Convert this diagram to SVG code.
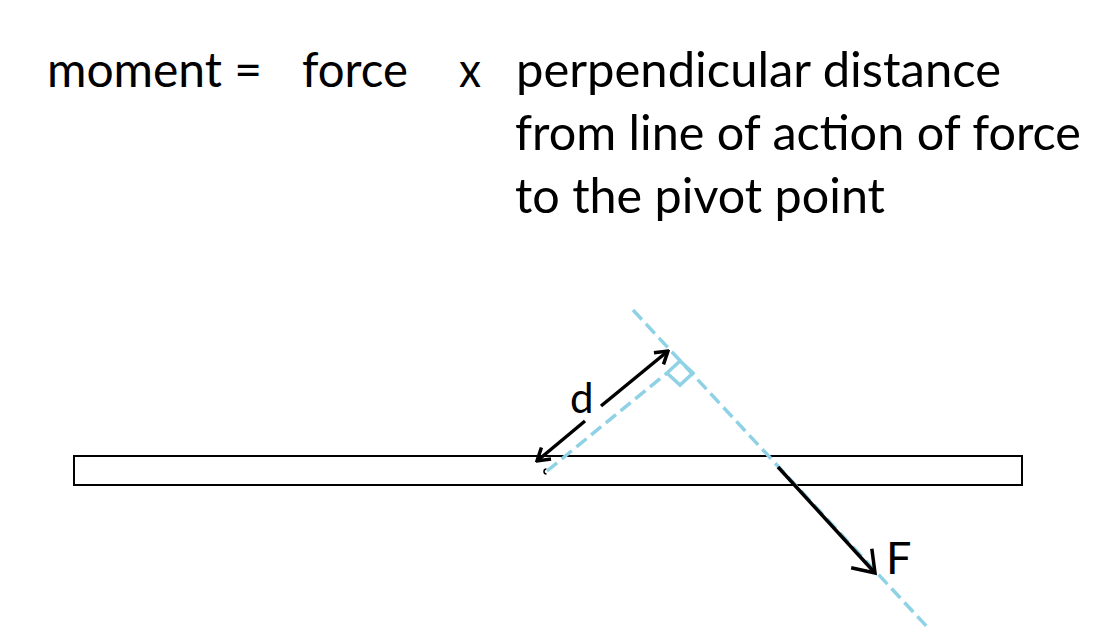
<svg xmlns="http://www.w3.org/2000/svg" width="1098" height="637" viewBox="0 0 1098 637">
  <style>
    .t { font-family: Lato, "Open Sans", "Liberation Sans", sans-serif; font-size: 48px; fill: #000; }
    .lbl { font-family: Lato, "Open Sans", "Liberation Sans", sans-serif; fill: #000; }
    .blue { stroke: #8FD2E6; stroke-width: 3.5; fill: none; }
    .dash { stroke-dasharray: 13 6; }
    .blk { stroke: #000; stroke-width: 3.5; fill: none; }
  </style>
  <defs>
    <marker id="headS" markerUnits="userSpaceOnUse" viewBox="-15 -10 17 20" refX="0" refY="0" markerWidth="17" markerHeight="20" orient="auto-start-reverse">
      <path d="M-12,-7.5 L0,0 L-12,7.5" fill="none" stroke="#000" stroke-width="3.5"/>
    </marker>
    <marker id="headL" markerUnits="userSpaceOnUse" viewBox="-24 -17 27 34" refX="0" refY="0" markerWidth="27" markerHeight="34" orient="auto">
      <path d="M-20,-14 L0,0 L-20,14" fill="none" stroke="#000" stroke-width="3.5"/>
    </marker>
  </defs>

  <g id="formula">
    <text class="t" x="47" y="87" textLength="215" lengthAdjust="spacingAndGlyphs">moment =</text>
    <text class="t" x="302" y="87" textLength="106" lengthAdjust="spacingAndGlyphs">force</text>
    <text class="t" x="459" y="87" textLength="22" lengthAdjust="spacingAndGlyphs">x</text>
    <text class="t" x="516" y="87" textLength="485" lengthAdjust="spacingAndGlyphs">perpendicular distance</text>
    <text class="t" x="515" y="150" textLength="566" lengthAdjust="spacingAndGlyphs">from line of action of force</text>
    <text class="t" x="515" y="213" textLength="370" lengthAdjust="spacingAndGlyphs">to the pivot point</text>
  </g>

  <g id="beam">
    <rect x="74" y="456" width="948" height="29" fill="none" stroke="#000" stroke-width="2"/>
  </g>

  <g id="pivot">
    <path d="M546.5,469 A2.5,2.5 0 1 0 546.5,474" fill="none" stroke="#000" stroke-width="1.5"/>
  </g>

  <g id="connectors">
    <line id="line-of-action" class="blue dash" x1="633" y1="310" x2="930" y2="630"/>
    <line id="perpendicular" class="blue dash" x1="547" y1="471" x2="667" y2="373"/>
    <polygon id="right-angle" class="blue" points="680,361 667,373 680,385 693,373"/>
    <line id="d-arrow-lower" class="blk" x1="585" y1="421" x2="537" y2="461" marker-end="url(#headS)"/>
    <line id="d-arrow-upper" class="blk" x1="601" y1="406" x2="668" y2="351" marker-end="url(#headS)"/>
    <line id="force-arrow" class="blk" x1="778" y1="467" x2="875" y2="573" marker-end="url(#headL)"/>
  </g>

  <g id="label-d">
    <text class="lbl" x="570" y="413" font-size="42">d</text>
  </g>
  <g id="label-F">
    <text class="lbl" x="886" y="574" font-size="45">F</text>
  </g>
</svg>
